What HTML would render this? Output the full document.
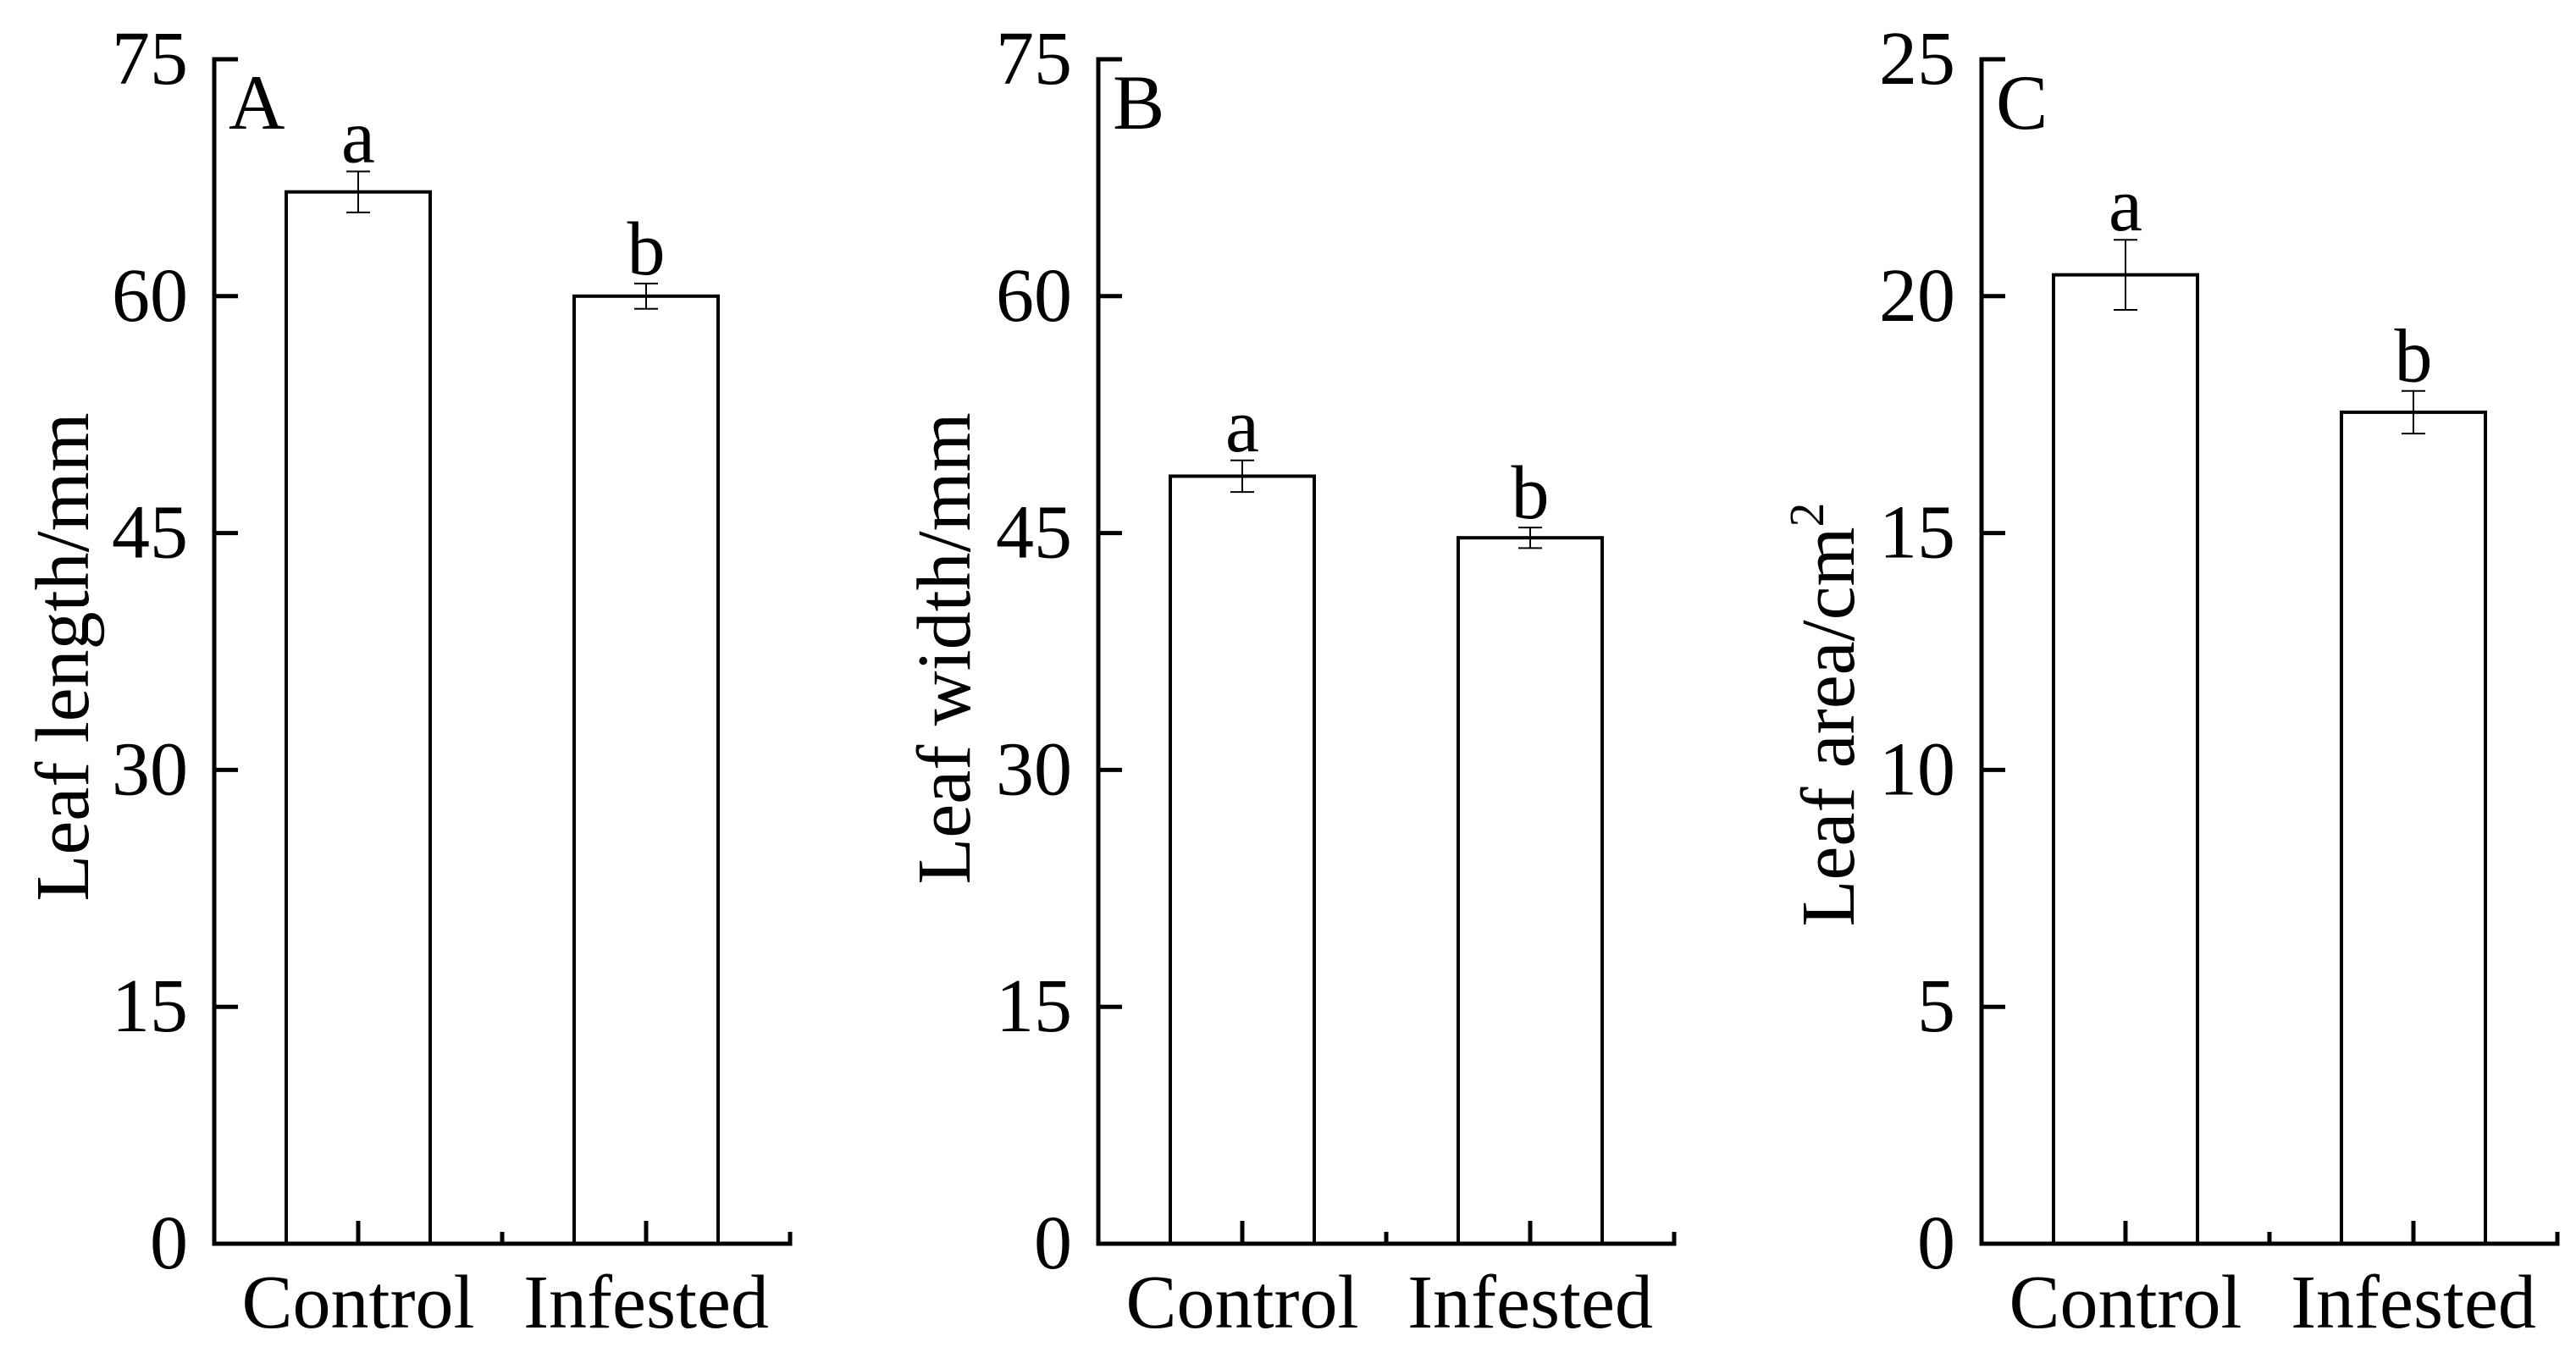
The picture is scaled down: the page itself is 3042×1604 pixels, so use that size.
<!DOCTYPE html>
<html><head><meta charset="utf-8"><style>
html,body{margin:0;padding:0;background:#fff;}
svg{display:block;}
text{font-family:"Liberation Serif",serif;fill:#000;}
</style></head><body>
<svg id="fig" width="3042" height="1604" viewBox="0 0 3042 1604" xmlns="http://www.w3.org/2000/svg"></svg>
<script>
const categories = ["Control", "Infested"];
const panelLabels = ["A", "B", "C"];
const yTitles = ["Leaf length/mm", "Leaf width/mm", "Leaf area/cm"];
const yMaxes = [75, 75, 25];
const yTicksA = [0, 15, 30, 45, 60, 75];
const yTicksB = [0, 15, 30, 45, 60, 75];
const yTicksC = [0, 5, 10, 15, 20, 25];
const meansA = [66.6, 60.0];
const errsA = [1.3, 0.8];
const meansB = [48.6, 44.7];
const errsB = [1.0, 0.65];
const meansC = [20.45, 17.55];
const errsC = [0.74, 0.45];
const sigLetters = ["a", "b"];

const NS = "http://www.w3.org/2000/svg";
const svg = document.getElementById("fig");
function el(tag, attrs, parent) {
  const e = document.createElementNS(NS, tag);
  for (const k in attrs) e.setAttribute(k, attrs[k]);
  (parent || svg).appendChild(e);
  return e;
}
const axisXs = [253, 1297, 2340];
const titleXs = [74, 1115, 2159];
const titleYs = [776, 766, 844];
const y0 = 1469, yTop = 70;
const panels = [
  {ticks: yTicksA, means: meansA, errs: errsA},
  {ticks: yTicksB, means: meansB, errs: errsB},
  {ticks: yTicksC, means: meansC, errs: errsC}
];
panels.forEach((p, i) => {
  const ax = axisXs[i];
  const ymax = yMaxes[i];
  const yScale = v => y0 - (v / ymax) * (y0 - yTop);
  const xCenter = j => ax + 170 + j * 340;
  const g = el("g", {});
  
  
  // bars
  p.means.forEach((m, j) => {
    const cx = xCenter(j);
    const r = el("rect", {x: cx - 85, y: yScale(m), width: 170, height: y0 - yScale(m), fill: "#fff", stroke: "#000", "stroke-width": 4}, g);
    
    
    const e = p.errs[j];
    const eb = el("path", {d: `M${cx},${yScale(m + e)}V${yScale(m - e)}M${cx - 14},${yScale(m + e)}H${cx + 14}M${cx - 14},${yScale(m - e)}H${cx + 14}`, stroke: "#000", "stroke-width": 2, fill: "none"}, g);
    
    
    const t = el("text", {x: cx, y: yScale(m + e) - 11, "font-size": 90, "text-anchor": "middle"}, g);
    t.textContent = sigLetters[j];
    
    
    const cl = el("text", {x: cx, y: 1568, "font-size": 90, "text-anchor": "middle"}, g);
    cl.textContent = categories[j];
    
    
  });
  // axes
  const xEnd = ax + 680;
  const axes = el("path", {d: `M${ax + 28},${yTop}H${ax}V${y0}H${xEnd}V${y0 - 14}M${xCenter(0)},${y0}V${y0 - 27}M${xCenter(1)},${y0}V${y0 - 27}M${ax + 340},${y0}V${y0 - 14}`, stroke: "#000", "stroke-width": 5, fill: "none"}, g);
  
  
  p.ticks.forEach(v => {
    const y = yScale(v);
    if (v > 0 && v < ymax) {
      const tk = el("line", {x1: ax, x2: ax + 28, y1: y, y2: y, stroke: "#000", "stroke-width": 5}, g);
      
      
    }
    const tl = el("text", {x: ax - 31, y: y + 29, "font-size": 90, "text-anchor": "end"}, g);
    tl.textContent = v;
    
    
  });
  const pl = el("text", {x: ax + 17, y: 152, "font-size": 92}, g);
  pl.textContent = panelLabels[i];
  
  
  const yt = el("text", {x: 0, y: 0, "font-size": 90, "text-anchor": "middle", transform: `translate(${titleXs[i] + 30},${titleYs[i]}) rotate(-90)`}, g);
  yt.textContent = yTitles[i];
  if (i === 2) {
    const sup = el("tspan", {dy: -36, "font-size": 58}, yt);
    sup.textContent = "2";
  }
  
  
});
</script>
</body></html>
